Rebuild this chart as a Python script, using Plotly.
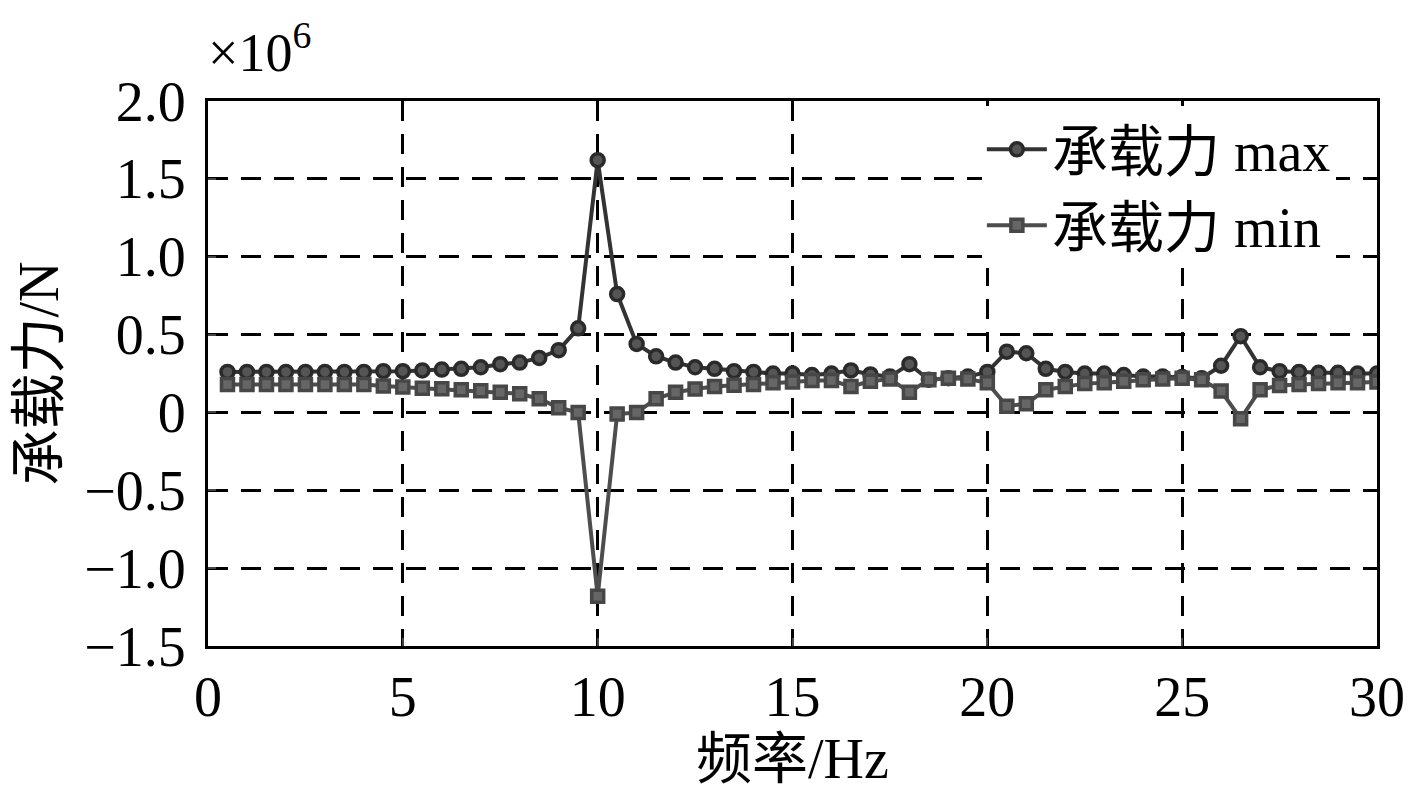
import plotly.graph_objects as go

# frequency (Hz) and bearing force (x10^6 N)
freq = [0.5, 1.0, 1.5, 2.0, 2.5, 3.0, 3.5, 4.0, 4.5, 5.0,
        5.5, 6.0, 6.5, 7.0, 7.5, 8.0, 8.5, 9.0, 9.5, 10.0,
        10.5, 11.0, 11.5, 12.0, 12.5, 13.0, 13.5, 14.0, 14.5, 15.0,
        15.5, 16.0, 16.5, 17.0, 17.5, 18.0, 18.5, 19.0, 19.5, 20.0,
        20.5, 21.0, 21.5, 22.0, 22.5, 23.0, 23.5, 24.0, 24.5, 25.0,
        25.5, 26.0, 26.5, 27.0, 27.5, 28.0, 28.5, 29.0, 29.5, 30.0]

force_max = [0.26, 0.26, 0.26, 0.26, 0.26, 0.26, 0.26, 0.26, 0.265, 0.265,
             0.27, 0.275, 0.28, 0.29, 0.31, 0.32, 0.35, 0.40, 0.54, 1.62,
             0.76, 0.44, 0.36, 0.32, 0.29, 0.28, 0.265, 0.26, 0.25, 0.25,
             0.24, 0.25, 0.27, 0.244, 0.23, 0.31, 0.21, 0.22, 0.23, 0.26,
             0.39, 0.38, 0.28, 0.26, 0.25, 0.25, 0.24, 0.23, 0.23, 0.227,
             0.22, 0.30, 0.49, 0.29, 0.265, 0.26, 0.255, 0.255, 0.25, 0.25]

force_min = [0.18, 0.18, 0.18, 0.18, 0.18, 0.18, 0.18, 0.18, 0.17, 0.163,
             0.155, 0.152, 0.146, 0.14, 0.13, 0.12, 0.088, 0.03, 0.0, -1.18,
             -0.01, 0.0, 0.088, 0.13, 0.15, 0.167, 0.175, 0.18, 0.19, 0.195,
             0.205, 0.205, 0.167, 0.2, 0.215, 0.13, 0.21, 0.22, 0.215, 0.19,
             0.04, 0.056, 0.146, 0.167, 0.185, 0.19, 0.2, 0.21, 0.215, 0.22,
             0.21, 0.137, -0.04, 0.146, 0.173, 0.18, 0.185, 0.19, 0.19, 0.195]

x_ticks = [0, 5, 10, 15, 20, 25, 30]
y_ticks = [-1.5, -1.0, -0.5, 0, 0.5, 1.0, 1.5, 2.0]
y_ticktext = ['\u22121.5', '\u22121.0', '\u22120.5', '0', '0.5', '1.0', '1.5', '2.0']

FONT = 'Liberation Serif, Times New Roman, Noto Sans CJK SC'

fig = go.Figure()
fig.add_trace(go.Scatter(
    x=freq, y=force_max, mode='lines+markers', name='承载力 max',
    line=dict(color='#333333', width=4),
    marker=dict(symbol='circle', size=13, color='#555555',
                line=dict(color='#2a2a2a', width=3.5))))
fig.add_trace(go.Scatter(
    x=freq, y=force_min, mode='lines+markers', name='承载力 min',
    line=dict(color='#4d4d4d', width=4),
    marker=dict(symbol='square', size=12, color='#666666',
                line=dict(color='#474747', width=3.5))))

fig.update_xaxes(
    range=[0, 30], tickvals=x_ticks, ticks='inside', ticklen=8, tickwidth=2,
    showline=True, linecolor='black', linewidth=3, mirror=True,
    showgrid=True, gridcolor='black', gridwidth=2.5, griddash='20px,13px',
    zeroline=False, tickfont=dict(size=56, color='black', family=FONT),
    title=dict(text='频率/Hz', font=dict(size=56, color='black', family=FONT), standoff=0))
fig.update_yaxes(
    range=[-1.5, 2.0], tickvals=y_ticks, ticktext=y_ticktext, ticks='inside',
    ticklen=8, tickwidth=2, ticklabelstandoff=8,
    showline=True, linecolor='black', linewidth=3, mirror=True,
    showgrid=True, gridcolor='black', gridwidth=2.5, griddash='20px,13px',
    zeroline=False, tickfont=dict(size=56, color='black', family=FONT),
    title=dict(text='承载力/N', font=dict(size=56, color='black', family=FONT), standoff=20))

fig.add_annotation(text='\u00d710<sup>6</sup>', xref='paper', yref='paper',
                   x=-0.002, y=1.03, xanchor='left', yanchor='bottom', showarrow=False,
                   font=dict(size=54, color='black', family=FONT))

fig.update_layout(
    width=1409, height=801, paper_bgcolor='white', plot_bgcolor='white',
    margin=dict(l=200, r=31, t=93, b=163),
    font=dict(family=FONT, color='black'),
    legend=dict(x=0.662, y=0.99, xanchor='left', yanchor='top',
                bgcolor='white', font=dict(size=56, color='black', family=FONT),
                itemwidth=60, tracegroupgap=0),
    showlegend=True)

fig.write_html("out.html")
